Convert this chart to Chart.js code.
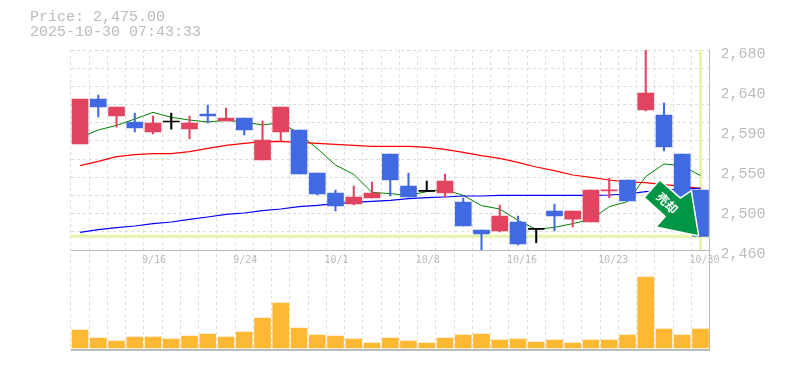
<!DOCTYPE html>
<html>
<head>
<meta charset="utf-8">
<title>Price chart</title>
<script src="https://cdn.jsdelivr.net/npm/chart.js@4/dist/chart.umd.min.js"></script>
<style>
    html, body { margin: 0; padding: 0; background: #fff; overflow: hidden; }
    #wrap { position: relative; width: 785px; height: 370px; }
    #head {
        position: absolute; left: 30px; top: 10px;
        font: 15px/15px "Liberation Mono", monospace; color: #bbb; white-space: pre;
    }
    canvas { display: block; }
</style>
</head>
<body>
<div id="wrap">
    <div id="head">Price: 2,475.00
2025-10-30 07:43:33</div>
    <canvas id="chart" width="785" height="370"></canvas>
</div>
<script>
    const dates = ["9/10", "9/11", "9/12", "9/15", "9/16", "9/17", "9/18", "9/19", "9/22", "9/24", "9/25", "9/26", "9/29", "9/30", "10/1", "10/2", "10/3", "10/6", "10/7", "10/8", "10/9", "10/10", "10/14", "10/15", "10/16", "10/17", "10/20", "10/21", "10/22", "10/23", "10/24", "10/27", "10/28", "10/29", "10/30"];
    const shownDates = ["9/16", "9/24", "10/1", "10/8", "10/16", "10/23", "10/30"];

    const opens = [2576.6, 2626, 2607.4, 2600.8, 2589.8, 2600.8, 2593.1, 2609.6, 2601.9, 2605.2, 2559, 2589.8, 2592, 2544.7, 2522.7, 2510.6, 2517.2, 2565.6, 2530.4, 2524.5, 2522.7, 2512.8, 2482, 2480.9, 2490.8, 2482.7, 2502.9, 2494, 2490.8, 2525, 2537, 2614, 2608.5, 2565.6, 2526];
    const closes = [2626.1, 2617.3, 2617.3, 2594.2, 2599.7, 2600.8, 2599.7, 2607.4, 2605.2, 2592, 2581, 2617.3, 2543.6, 2521.6, 2508.4, 2518.3, 2522.7, 2537, 2518.3, 2524.5, 2535.9, 2486.4, 2477.6, 2497.4, 2466.6, 2482.7, 2497.4, 2502.9, 2526, 2526, 2513.9, 2632.7, 2573.3, 2515, 2475];
    const highs = [2626.1, 2630.5, 2617.3, 2610.7, 2607.4, 2610.7, 2607.4, 2619.5, 2616.2, 2605.2, 2601.9, 2617.3, 2592, 2544.7, 2526, 2530.4, 2534.8, 2565.6, 2544.7, 2535.9, 2543.6, 2517.2, 2482, 2509.5, 2497.4, 2482.7, 2510.6, 2502.9, 2526, 2539.2, 2537, 2680, 2621.7, 2565.6, 2526];
    const lows = [2576.6, 2606.3, 2595.3, 2589.8, 2587.6, 2593, 2582.1, 2599.7, 2601.9, 2586.5, 2559, 2579.9, 2543.6, 2520.5, 2502.9, 2509.5, 2517.2, 2519.4, 2518.3, 2524.5, 2518.3, 2486.4, 2460, 2479.8, 2465.5, 2468, 2480.9, 2485.3, 2490.8, 2517.2, 2513.9, 2612.9, 2568.9, 2515, 2475];

    const maShort = [2583.9, 2592, 2597.1, 2604.1, 2611.4, 2605.9, 2603, 2600.8, 2602.6, 2600.8, 2597.5, 2600.1, 2588.3, 2571.5, 2553.5, 2543.2, 2523.4, 2522, 2520.1, 2524.2, 2526.4, 2520.1, 2508.8, 2505.1, 2492.6, 2482.7, 2484.9, 2489, 2493.7, 2507.7, 2513.2, 2540.7, 2554.6, 2552.8, 2541.8];
    const maMid = [2552.8, 2557.5, 2562.7, 2564.9, 2566, 2566, 2568.2, 2571.8, 2575.1, 2577.3, 2579.2, 2579.5, 2578.4, 2577.3, 2576.2, 2575.1, 2574, 2574, 2574, 2572.9, 2570.7, 2567.4, 2563.8, 2560.8, 2556.4, 2551.3, 2547.3, 2542.5, 2539.9, 2537, 2534.8, 2534.1, 2531.9, 2530, 2527.8];
    const maLong = [2479.4, 2482.4, 2484.6, 2486.4, 2489, 2490.8, 2493.7, 2496.3, 2499.2, 2500.7, 2503.3, 2505.1, 2507.7, 2509.1, 2511, 2512.4, 2513.5, 2514.6, 2516.5, 2517.6, 2518.3, 2519.4, 2519.4, 2520.1, 2520.1, 2520.1, 2520.1, 2520.1, 2520.1, 2520.5, 2521.6, 2524.2, 2525.3, 2527.1, 2527.8];

    const volumes = [54, 30, 21, 33, 33, 27, 36, 42, 33, 48, 90, 135, 60, 39, 36, 27, 15, 30, 21, 15, 30, 39, 42, 24, 27, 18, 24, 15, 24, 24, 39, 213, 57, 39, 57];

    const gridValues = [2460, 2480, 2500, 2520, 2540, 2560, 2580, 2600, 2620, 2640, 2660, 2680];
    const labelValues = [2460, 2504, 2548, 2592, 2636, 2680];
    const labelTexts = ["2,460", "2,500", "2,550", "2,590", "2,640", "2,680"];
    const lastPrice = 2475;
    const badgeText = "売却";

    const UP = "#e2435f";
    const DOWN = "#4169e1";
    const FLAT = "#000000";
    const AXIS = "#bbbbbb";
    const GRID = "#dddddd";
    const MARKER = "#e5f5ab";

    function candleColor(i) {
        if (opens[i] === closes[i]) return FLAT;
        return closes[i] > opens[i] ? UP : DOWN;
    }

    const candleColors = opens.map(function (o, i) { return candleColor(i); });
    const bodies = opens.map(function (o, i) { return [o, closes[i]]; });
    const wicks = lows.map(function (l, i) { return [l, highs[i]]; });

    // current price cross, sits under the candles
    const markerPlugin = {
        id: "marker",
        beforeDatasetsDraw: function (c) {
            const a = c.chartArea;
            const y = c.scales.y.getPixelForValue(lastPrice);
            const x = c.scales.x.getPixelForValue(dates.length - 1);
            const ctx = c.ctx;
            ctx.save();
            ctx.strokeStyle = MARKER;
            ctx.lineWidth = 3;
            ctx.beginPath();
            ctx.moveTo(a.left, y);
            ctx.lineTo(a.right, y);
            ctx.moveTo(x, a.top);
            ctx.lineTo(x, c.scales.y.bottom);
            ctx.stroke();
            ctx.restore();
        }
    };

    // sell arrow, anchored on the last candle and the last price
    const badgePlugin = {
        id: "badge",
        afterDatasetsDraw: function (c) {
            const tx = c.scales.x.getPixelForValue(dates.length - 1) - 2.7;
            const ty = c.scales.y.getPixelForValue(lastPrice) - 1.4;
            const ctx = c.ctx;
            ctx.save();
            ctx.translate(tx, ty);
            ctx.beginPath();
            ctx.moveTo(-38, -54);
            ctx.lineTo(-17.5, -36);
            ctx.lineTo(-7, -43);
            ctx.lineTo(0, 0);
            ctx.lineTo(-40.5, -8.5);
            ctx.lineTo(-31.5, -18.5);
            ctx.lineTo(-52.5, -37.5);
            ctx.closePath();
            ctx.lineJoin = "round";
            ctx.lineWidth = 3;
            ctx.strokeStyle = "#ffffff";
            ctx.stroke();
            ctx.fillStyle = "#009645";
            ctx.fill();
            ctx.translate(-30.5, -32);
            ctx.rotate(Math.PI / 4);
            ctx.fillStyle = "#ffffff";
            ctx.font = "bold 12px 'Noto Sans CJK JP', sans-serif";
            ctx.textAlign = "center";
            ctx.textBaseline = "middle";
            ctx.fillText(badgeText, 0, 0);
            ctx.restore();
        }
    };

    new Chart(document.getElementById("chart").getContext("2d"), {
        data: {
            labels: dates,
            datasets: [
                { type: "bar", data: bodies, yAxisID: "y", backgroundColor: candleColors, barThickness: 16, minBarLength: 1, order: 1 },
                { type: "bar", data: wicks, yAxisID: "y", backgroundColor: candleColors, barThickness: 1.4, minBarLength: 1, order: 2 },
                { type: "line", data: maLong, yAxisID: "y", borderColor: "#0000ff", borderWidth: 1.2, pointRadius: 0, tension: 0, order: 3 },
                { type: "line", data: maMid, yAxisID: "y", borderColor: "#ff0000", borderWidth: 1.2, pointRadius: 0, tension: 0, order: 4 },
                { type: "line", data: maShort, yAxisID: "y", borderColor: "#008000", borderWidth: 1, pointRadius: 0, tension: 0, order: 5 },
                { type: "bar", data: volumes, yAxisID: "yv", backgroundColor: "#ffb833", barThickness: 16, order: 1 }
            ]
        },
        options: {
            responsive: false,
            animation: false,
            layout: { padding: { left: 70.9, top: 50, bottom: 20, right: 0 } },
            plugins: { legend: { display: false }, tooltip: { enabled: false } },
            datasets: { bar: { grouped: false } },
            scales: {
                x: {
                    type: "category",
                    position: { y: 2460 },
                    offset: true,
                    border: { display: false, dash: [3, 3] },
                    grid: { color: GRID, offset: true, drawTicks: false, lineWidth: 1 },
                    ticks: {
                        autoSkip: false,
                        maxRotation: 0,
                        align: "start",
                        labelOffset: -11,
                        padding: 4,
                        color: AXIS,
                        font: { family: "'DejaVu Sans Mono', monospace", size: 10 },
                        callback: function (v, i) {
                            return shownDates.indexOf(dates[i]) >= 0 ? dates[i] : "";
                        }
                    }
                },
                y: {
                    type: "linear",
                    position: "right",
                    stack: "main",
                    stackWeight: 2,
                    min: 2460,
                    max: 2680,
                    afterBuildTicks: function (s) {
                        const all = gridValues.concat(labelValues.filter(function (v) { return gridValues.indexOf(v) < 0; }));
                        all.sort(function (a, b) { return a - b; });
                        s.ticks = all.map(function (v) { return { value: v }; });
                    },
                    afterFit: function (s) { s.width = 75.4; },
                    border: {
                        color: AXIS,
                        width: 1,
                        dash: function (ctx) {
                            return ctx.tick && ctx.tick.value === 2460 ? [] : [3, 3];
                        }
                    },
                    grid: {
                        drawTicks: false,
                        color: function (ctx) {
                            const v = ctx.tick.value;
                            if (v === 2460) return AXIS;
                            return gridValues.indexOf(v) >= 0 ? GRID : "rgba(0,0,0,0)";
                        }
                    },
                    ticks: {
                        autoSkip: false,
                        padding: 11,
                        labelOffset: 4,
                        color: AXIS,
                        font: { family: "'Liberation Mono', monospace", size: 15 },
                        callback: function (v) {
                            const i = labelValues.indexOf(v);
                            return i >= 0 ? labelTexts[i] : "";
                        }
                    }
                },
                yv: {
                    type: "linear",
                    position: "right",
                    stack: "main",
                    stackWeight: 1,
                    min: -6,
                    max: 294,
                    afterBuildTicks: function (s) { s.ticks = [{ value: -6 }]; },
                    afterFit: function (s) { s.width = 75.4; },
                    border: { color: AXIS, width: 1 },
                    grid: { drawTicks: false, color: AXIS, lineWidth: 2 },
                    ticks: { display: false }
                }
            }
        },
        plugins: [markerPlugin, badgePlugin]
    });
</script>
</body>
</html>
